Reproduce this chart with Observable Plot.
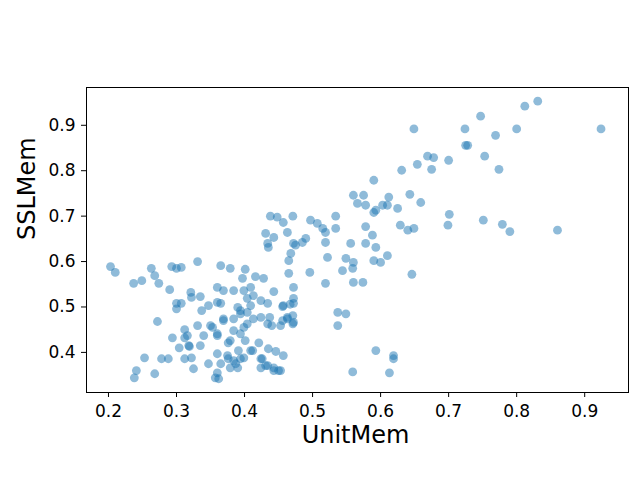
<!DOCTYPE html>
<html>
<head>
<meta charset="utf-8">
<script src="https://cdn.jsdelivr.net/npm/d3@7"></script>
<script src="https://cdn.jsdelivr.net/npm/@observablehq/plot@0.6"></script>
<style>
  html, body { margin: 0; padding: 0; background: #fff; }
</style>
</head>
<body>
<div id="chart"></div>
<script>
const unitMem = [
  0.203,0.210,0.237,0.249,0.263,0.268,0.274,0.290,0.293,0.300,0.307,0.331,0.321,0.322,0.335,0.300,0.307,0.300,0.337,0.347,
  0.272,0.312,0.294,0.312,0.304,0.319,0.253,0.278,0.288,0.312,0.322,0.241,0.238,0.268,0.325,0.347,
  0.365,0.390,0.409,0.434,0.457,0.472,0.331,0.350,0.369,0.394,0.404,0.424,0.434,0.463,0.472,0.453,
  0.316,0.340,0.360,0.379,0.394,0.401,0.421,0.318,0.335,0.360,0.375,0.384,0.394,0.409,0.435,0.446,0.457,0.424,
  0.365,0.379,0.390,0.424,0.434,0.443,0.453,0.360,0.362,
  0.434,0.435,0.472,0.485,0.519,0.468,0.465,0.522,0.365,0.379,0.401,0.416,0.428,0.397,0.465,0.496,0.519,
  0.360,0.369,0.384,0.399,0.409,0.443,0.472,0.360,0.404,0.413,0.424,0.394,0.404,0.456,0.467,0.472,
  0.437,0.456,0.471,0.440,0.369,0.384,0.399,0.413,0.353,0.360,0.384,0.376,0.391,0.412,0.376,0.387,0.399,0.426,
  0.431,0.443,0.450,0.357,0.537,0.537,
  0.566,0.578,0.593,0.610,0.625,0.659,0.438,0.448,0.471,0.457,0.463,0.497,0.507,0.515,0.519,0.534,0.534,0.578,
  0.588,0.578,0.593,0.629,0.640,0.649,0.431,0.443,0.490,0.556,0.549,0.560,0.559,0.544,0.590,0.600,0.610,
  0.560,0.574,0.646,0.471,0.463,0.549,
  0.590,0.560,0.575,0.612,0.603,0.590,0.475,
  0.593,0.619,0.619,0.559,0.613,
  0.831,0.812,0.747,0.649,0.724,0.800,0.924,0.769,0.728,0.725,0.753,0.700,0.669,0.678,0.654,0.675,0.631,0.774,
  0.643,0.701,0.699,0.751,0.779,0.790,0.860
];
const sslMem = [
  0.589,0.576,0.552,0.558,0.585,0.569,0.552,0.538,0.589,0.585,0.587,0.600,0.532,0.521,0.523,0.508,0.508,0.496,0.492,0.503,
  0.468,0.450,0.432,0.432,0.410,0.413,0.388,0.386,0.386,0.386,0.388,0.360,0.344,0.353,0.364,0.375,
  0.508,0.499,0.503,0.508,0.503,0.508,0.459,0.459,0.470,0.485,0.463,0.477,0.463,0.477,0.466,0.459,
  0.437,0.437,0.441,0.426,0.441,0.426,0.421,0.415,0.415,0.397,0.393,0.382,0.386,0.404,0.408,0.402,0.393,0.386,
  0.375,0.366,0.366,0.366,0.371,0.360,0.360,0.355,0.342,
  0.640,0.631,0.640,0.642,0.642,0.618,0.602,0.609,0.591,0.585,0.583,0.567,0.563,0.563,0.574,0.576,0.552,
  0.543,0.536,0.536,0.536,0.543,0.534,0.543,0.510,0.519,0.525,0.514,0.492,0.488,0.501,0.506,0.519,
  0.477,0.470,0.463,0.459,0.474,0.474,0.455,0.474,0.455,0.437,0.448,0.421,0.404,0.404,0.386,0.375,0.388,0.386,
  0.371,0.366,0.360,0.344,0.488,0.459,
  0.728,0.724,0.713,0.724,0.717,0.730,0.700,0.698,0.700,0.686,0.664,0.691,0.684,0.673,0.664,0.700,0.673,0.677,
  0.658,0.640,0.631,0.680,0.669,0.673,0.662,0.653,0.651,0.640,0.607,0.598,0.585,0.580,0.602,0.598,0.613,
  0.554,0.554,0.572,0.481,0.474,0.485,
  0.779,0.746,0.746,0.742,0.724,0.708,0.636,
  0.404,0.393,0.386,0.357,0.355,
  0.953,0.942,0.920,0.892,0.892,0.892,0.892,0.878,0.856,0.856,0.832,0.823,0.832,0.829,0.814,0.803,0.801,0.803,
  0.748,0.704,0.680,0.691,0.682,0.666,0.669
];
const xTicks = [0.2, 0.3, 0.4, 0.5, 0.6, 0.7, 0.8, 0.9];
const yTicks = [0.4, 0.5, 0.6, 0.7, 0.8, 0.9];
const xLabel = "UnitMem";
const yLabel = "SSLMem";

const data = unitMem.map((u, i) => ({u, s: sslMem[i]}));
const fmt = d3.format(".1f");

const chart = Plot.plot({
  width: 640,
  height: 480,
  marginTop: 87,
  marginBottom: 88,
  marginLeft: 86,
  marginRight: 12,
  style: {fontFamily: "DejaVu Sans", fontSize: "17px", color: "black", background: "white"},
  x: {domain: [0.1677, 0.9644]},
  y: {domain: [0.3117, 0.9832]},
  marks: [
    Plot.dot(data, {x: "u", y: "s", r: 4.4, fill: "#1f77b4", fillOpacity: 0.5, stroke: "none"}),
    Plot.frame({stroke: "black", strokeWidth: 1}),
    Plot.axisX({ticks: xTicks, tickFormat: fmt, tickSize: 5, tickPadding: 7, label: null, stroke: "black", strokeOpacity: 1}),
    Plot.axisY({ticks: yTicks, tickFormat: fmt, tickSize: 5, tickPadding: 6, label: null, stroke: "black", strokeOpacity: 1}),
    Plot.text([xLabel], {frameAnchor: "bottom", text: d => d, dy: 50, dx: -2, fontSize: 24, fill: "black"}),
    Plot.text([yLabel], {frameAnchor: "left", text: d => d, dx: -59, rotate: -90, fontSize: 24, fill: "black"})
  ]
});
document.getElementById("chart").appendChild(chart);
</script>
</body>
</html>
